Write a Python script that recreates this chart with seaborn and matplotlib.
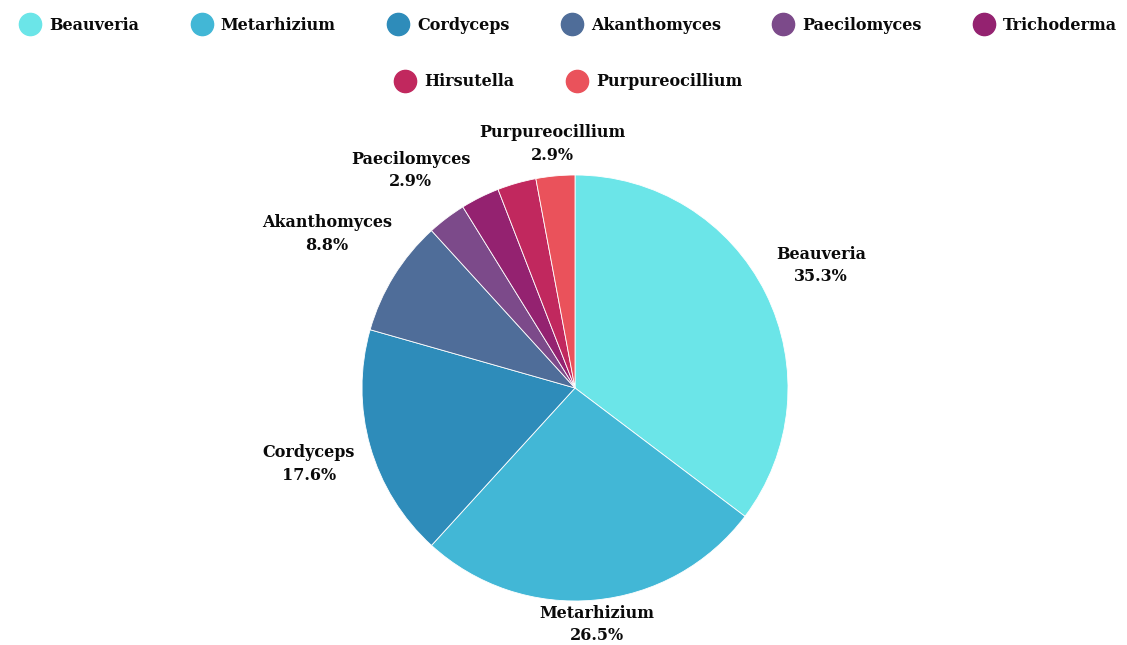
import numpy as np
import matplotlib.pyplot as plt
import seaborn as sns
from matplotlib.lines import Line2D

# dados (contagem de registros por gênero)
generos = ['Beauveria', 'Metarhizium', 'Cordyceps', 'Akanthomyces',
           'Paecilomyces', 'Trichoderma', 'Hirsutella', 'Purpureocillium']
contagens = [12, 9, 6, 3, 1, 1, 1, 1]
mostrar_rotulo = [True, True, True, True, True, False, False, True]

cores = ['#6be5e8', '#42b7d6', '#2e8cba', '#4f6d99',
         '#7c4a8a', '#942270', '#c1285e', '#ea525b']
dist_rotulo = [1.29, 1.115, 1.30, 1.37, 1.28, 1.2, 1.2, 1.15]

sns.set_theme(style='white')
plt.rcParams['font.family'] = ['DejaVu Serif', 'DejaVu Sans']
fonte = dict(fontsize=11.5, fontweight='bold', color='#0a0a0a')

fig = plt.figure(figsize=(11.27, 6.45), dpi=100)
W, H = 1127, 645
cx, cy, r = 575, 388, 213
lim = 1.4
lado = 2 * lim * r
ax = fig.add_axes([(cx - lado / 2) / W, (H - cy - lado / 2) / H, lado / W, lado / H])

wedges, _ = ax.pie(contagens, colors=cores, startangle=90, counterclock=False,
                   wedgeprops=dict(edgecolor='white', linewidth=0.6))
ax.set_xlim(-lim, lim)
ax.set_ylim(-lim, lim)

total = sum(contagens)
for w, nome, c, d, mostra in zip(wedges, generos, contagens, dist_rotulo, mostrar_rotulo):
    if not mostra:
        continue
    ang = np.deg2rad((w.theta1 + w.theta2) / 2)
    pct = 100 * c / total
    ax.text(d * np.cos(ang), d * np.sin(ang), f'{nome}\n{pct:.1f}%',
            ha='center', va='center', linespacing=1.45, **fonte)

# legenda em duas linhas centralizadas
handles = [Line2D([], [], marker='o', linestyle='', markersize=16,
                  markerfacecolor=cor, markeredgecolor=cor, label=nome)
           for nome, cor in zip(generos, cores)]
for hs, yy in [(handles[:6], 25), (handles[6:], 82)]:
    fig.legend(handles=hs, loc='center', bbox_to_anchor=(569 / W, 1 - yy / H),
               ncol=len(hs), frameon=False, handletextpad=0.6, columnspacing=3.3,
               handlelength=1.2, labelcolor='#0a0a0a',
               prop=dict(size=11.5, weight='bold'))

fig.savefig('out.png', dpi=100, facecolor='white')
